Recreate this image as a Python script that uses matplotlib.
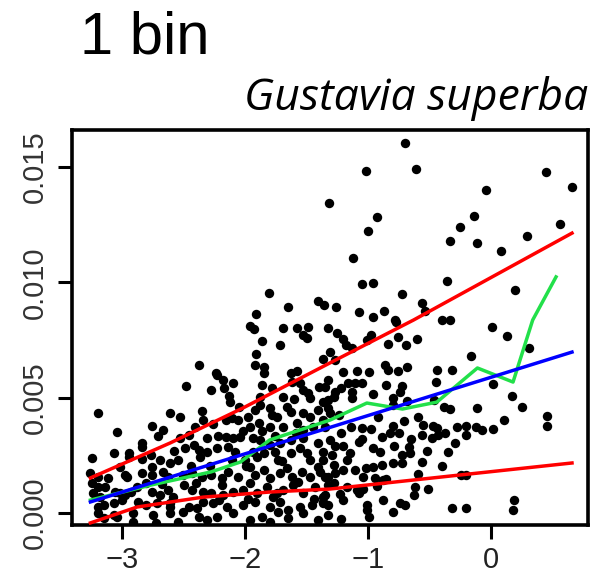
import numpy as np
import matplotlib
matplotlib.use('Agg')
import matplotlib.pyplot as plt

# ----- точки вибірки (x - логарифм розміру, y - приріст, одиниці 1e-3)
pts = [
    (-1.32, 13.44), (-1.81, 9.54), (-1.65, 8.93), (-1.41, 9.19), (-1.36, 9.02),
    (-1.91, 8.63), (-1.96, 8.11), (-1.69, 8.02), (-1.58, 8.02), (-1.49, 8.07),
    (-1.33, 8.02),
    (-0.70, 16.05), (-1.02, 14.83), (-0.61, 14.92), (-0.93, 12.84), (-1.00, 12.23),
    (0.45, 14.79), (0.66, 14.14), (-0.04, 14.01), (-0.14, 12.88), (-0.25, 12.40),
    (0.56, 12.53), (-0.33, 11.80), (-0.11, 11.71), (0.29, 12.01), (0.08, 11.36),
    (-1.12, 11.06), (-1.05, 9.93), (-0.96, 9.98), (-0.36, 10.06), (-0.72, 9.50),
    (0.20, 9.67), (-1.26, 8.93), (-1.07, 8.72), (-0.96, 8.50), (-0.87, 8.76),
    (-0.56, 9.11), (-0.54, 8.76), (-0.77, 8.28), (-0.40, 8.37), (-0.33, 8.37),
    (0.01, 8.07), (0.46, 4.21),
    (-1.25, 7.81), (-1.20, 7.55), (-1.18, 7.29), (-1.13, 7.16), (-1.31, 6.98),
    (-1.27, 6.64), (-1.37, 6.68), (-0.98, 7.72), (-1.01, 7.50), (-0.84, 7.33),
    (-0.76, 7.63), (-0.69, 7.29), (-0.60, 7.55), (-0.78, 8.37), (0.13, 7.68),
    (-0.16, 6.81), (0.31, 7.16), (-0.86, 6.42), (-0.84, 6.20), (-0.68, 6.33),
    (-0.76, 6.16), (-0.99, 6.12), (-1.09, 6.16), (-1.20, 6.12), (-1.33, 5.77),
    (-1.35, 5.46), (-1.22, 5.42), (-1.16, 5.64), (-1.11, 5.64), (-1.05, 5.64),
    (-1.13, 5.25), (-1.13, 4.99), (-1.27, 5.25), (-1.28, 5.03), (-1.33, 4.90),
    (-0.96, 5.16), (-0.85, 5.55), (-0.72, 5.51), (-0.74, 5.25), (-0.80, 4.99),
    (-0.80, 4.68), (-0.68, 4.86), (-0.44, 6.20), (-0.32, 6.20), (-0.45, 5.68),
    (0.02, 5.59), (-0.46, 4.90), (-0.38, 4.60), (-0.33, 4.51), (-0.11, 4.55),
    (0.17, 5.07), (0.25, 4.60), (0.11, 4.03), (0.46, 3.77), (-0.92, 4.16),
    (-1.31, 4.34), (-1.24, 4.25), (-1.35, 3.73), (-1.14, 3.73), (-1.05, 3.69),
    (-0.98, 3.64), (-0.89, 3.30), (-0.82, 3.47), (-0.75, 3.47), (-0.80, 3.77),
    (-0.71, 3.99), (-0.59, 4.16), (-0.55, 3.82), (-0.56, 3.38), (-0.47, 3.77),
    (-0.44, 3.69), (-0.48, 3.25), (-0.43, 3.38), (-0.37, 3.47), (-0.28, 3.73),
    (-0.20, 3.77), (-0.20, 3.38), (-0.12, 3.73), (-0.07, 3.60), (0.02, 3.64),
    (-0.29, 3.04), (-0.35, 2.65), (-1.05, 3.21), (-1.07, 3.08), (-1.27, 2.91),
    (-1.20, 2.91), (-0.96, 2.82), (-0.90, 2.65), (-0.79, 2.91), (-0.67, 2.86),
    (-0.72, 2.52), (-0.66, 2.60), (-0.52, 2.69), (-1.37, 2.30), (-1.29, 2.52),
    (-1.28, 2.08), (-1.17, 2.30), (-1.11, 1.86), (-1.02, 1.95), (-0.96, 2.00),
    (-0.89, 2.08), (-0.80, 2.17), (-0.72, 2.17), (-0.56, 2.21), (-0.59, 1.69),
    (-1.39, 1.78), (-1.35, 1.56), (-1.27, 1.73), (-1.20, 1.86), (-1.04, 1.56),
    (-0.94, 1.52), (-0.88, 1.43), (-0.85, 1.47), (-1.28, 1.30), (-1.33, 1.21),
    (-1.17, 1.13), (-1.09, 1.00), (-1.04, 1.04), (-1.07, 0.87), (-0.62, 1.13),
    (-0.63, 0.78), (-0.51, 1.04), (-0.24, 1.65), (-0.20, 1.65), (-1.37, 0.69),
    (-1.23, 0.82), (-1.20, 0.56), (-1.37, 0.43), (-1.33, 0.35), (-1.01, 0.35),
    (-1.01, 0.13), (-0.88, 0.56), (-0.74, 0.43), (-0.70, 0.35), (-0.80, 0.04),
    (-1.22, -0.26), (-0.99, -0.17), (-0.32, 0.22), (-0.20, 0.22), (0.19, 0.56),
    (0.18, 0.13),
    (-1.93, 7.98), (-1.53, 7.72), (-1.50, 7.59), (-1.86, 7.46), (-1.72, 7.29),
    (-1.91, 6.90), (-2.38, 6.42), (-1.92, 6.42), (-1.85, 6.33), (-1.85, 6.07),
    (-2.24, 6.07), (-2.23, 5.99), (-1.63, 6.07), (-1.58, 6.16), (-2.48, 5.51),
    (-2.18, 5.77), (-2.10, 5.64), (-2.17, 5.42), (-2.28, 5.33), (-1.86, 5.55),
    (-1.78, 5.42), (-1.62, 5.68), (-1.55, 5.64), (-1.53, 5.33), (-1.49, 5.20),
    (-1.40, 5.46), (-1.47, 4.99), (-1.37, 4.81), (-2.13, 5.07), (-2.12, 4.81),
    (-1.88, 5.03), (-1.88, 4.68), (-1.80, 4.55), (-1.78, 4.25), (-1.74, 4.16),
    (-1.66, 4.60), (-1.63, 4.38), (-1.53, 4.34), (-1.41, 4.47), (-1.33, 4.55),
    (-1.92, 4.47), (-1.98, 4.16), (-2.35, 4.42), (-2.61, 4.34), (-2.53, 4.16),
    (-2.41, 3.73), (-2.34, 4.03), (-2.26, 3.86), (-2.16, 4.03), (-2.11, 4.12),
    (-2.06, 4.03), (-1.96, 3.73), (-1.89, 3.90), (-1.80, 3.73), (-1.69, 3.73),
    (-1.58, 3.90), (-1.53, 3.60), (-1.45, 3.73), (-1.37, 4.03), (-3.20, 4.34),
    (-3.04, 3.51), (-2.76, 3.77), (-2.71, 3.34), (-2.67, 3.60), (-2.53, 3.25),
    (-2.46, 3.38), (-2.31, 3.25), (-2.22, 3.34), (-2.16, 3.30), (-2.10, 3.25),
    (-2.04, 3.30), (-1.94, 3.25), (-1.88, 3.17), (-1.80, 2.95), (-1.72, 3.04),
    (-1.63, 3.17), (-1.53, 3.25), (-1.41, 3.04), (-1.31, 3.17), (-3.25, 2.39),
    (-3.07, 2.60), (-2.95, 2.43), (-2.84, 2.86), (-2.84, 2.34), (-2.77, 2.52),
    (-2.76, 2.00), (-2.69, 2.30), (-2.61, 2.17), (-2.55, 2.30), (-2.49, 2.82),
    (-2.42, 2.95), (-2.38, 2.73), (-2.37, 2.43), (-2.31, 2.65), (-2.23, 2.82),
    (-2.14, 2.86), (-2.11, 2.30), (-2.08, 2.65), (-2.00, 2.30), (-1.94, 2.65),
    (-1.90, 2.43), (-1.85, 2.60), (-1.76, 2.65), (-1.73, 2.30), (-1.63, 2.60),
    (-1.55, 2.82), (-1.50, 2.60), (-1.47, 2.30), (-1.37, 2.65), (-3.02, 2.00),
    (-2.96, 1.56), (-2.84, 1.73), (-2.76, 1.65), (-2.67, 1.78), (-2.63, 1.56),
    (-2.51, 1.65), (-2.43, 1.73), (-2.35, 1.56), (-2.28, 1.65), (-2.19, 1.52),
    (-2.14, 1.78), (-2.06, 1.56), (-1.96, 2.00), (-1.92, 1.65), (-1.85, 1.86),
    (-1.80, 1.52), (-1.72, 1.73), (-1.66, 1.95), (-1.62, 1.56), (-1.54, 1.78),
    (-1.47, 1.56), (-1.41, 2.00), (-1.33, 1.56), (-3.25, 1.30), (-3.20, 1.13),
    (-3.14, 1.13), (-3.24, 0.87), (-3.02, 0.87), (-2.98, 0.78), (-2.93, 0.91),
    (-2.88, 1.13), (-2.81, 1.30), (-2.76, 0.91), (-2.69, 0.78), (-2.63, 1.00),
    (-2.59, 0.69), (-2.50, 1.21), (-2.43, 1.00), (-2.34, 0.91), (-2.28, 0.87),
    (-2.19, 1.21), (-2.18, 0.78), (-2.10, 0.91), (-2.02, 1.00), (-1.96, 1.30),
    (-1.90, 0.87), (-1.82, 1.13), (-1.77, 0.69), (-1.69, 1.00), (-1.61, 1.21),
    (-1.53, 0.87), (-1.43, 1.13), (-1.35, 0.78), (-3.15, 0.35), (-3.07, 0.43),
    (-3.00, 0.56), (-2.87, 0.48), (-2.81, 0.35), (-2.72, 0.43), (-2.61, 0.26),
    (-2.46, 0.26), (-2.34, 0.48), (-2.26, 0.43), (-2.15, 0.26), (-2.02, 0.35),
    (-1.92, 0.48), (-1.80, 0.26), (-1.72, 0.48), (-1.65, 0.13), (-1.55, 0.26),
    (-1.46, 0.35), (-1.37, 0.48), (-3.20, 0.00), (-3.15, -0.22), (-3.04, -0.17),
    (-2.91, -0.39), (-2.73, -0.43), (-2.61, 0.00), (-2.55, -0.39), (-2.38, -0.17),
    (-2.31, -0.30), (-2.23, -0.17), (-2.10, 0.00), (-1.96, -0.30), (-1.86, -0.17),
    (-1.80, -0.39), (-1.73, 0.04), (-1.65, -0.22), (-1.53, 0.00), (-1.41, -0.30),
    (-1.33, -0.09),
    (-2.84, 3.04), (-2.95, 2.60), (-3.26, 1.73), (-3.20, 1.56), (-3.12, 1.52),
    (-2.98, 1.65), (-3.18, 0.69), (-3.06, 0.91), (-3.20, 0.26), (-3.07, -0.09),
    (-2.91, 0.00), (-2.75, -0.09), (-2.61, 0.43), (-2.51, 0.04), (-2.39, 0.22),
    # густіша середня частина
    (-2.02, 3.55), (-1.99, 2.05), (-1.70, 2.25), (-1.59, 3.45), (-1.47, 4.15),
    (-1.69, 5.05), (-2.05, 4.60), (-2.29, 2.05), (-2.58, 2.70), (-2.68, 1.25),
    (-1.86, 3.55), (-1.76, 3.35), (-1.57, 1.35), (-1.44, 0.60), (-2.21, 0.55),
    (-1.98, 0.60), (-2.40, 1.30), (-1.74, 0.85), (-1.22, 3.45), (-1.15, 2.60),
    (-0.93, 1.15), (-0.65, 3.20), (-0.40, 2.05), (-1.60, 4.95), (-2.44, 2.05),
]
pts = np.array(pts)
x_pts = pts[:, 0]
y_pts = pts[:, 1] * 1e-3

# ----- лінії: верхній та нижній квантилі (червоні), середнє (синя), бінове середнє (зелена)
q_hi_x = [-3.26, -2.61, -2.02, -1.31, -0.63, 0.66]
q_hi_y = [1.52, 3.04, 4.55, 6.51, 8.37, 12.14]
q_lo_x = [-3.26, -2.88, -2.34, -1.80, -1.31, -0.25, 0.66]
q_lo_y = [-0.43, 0.26, 0.69, 0.91, 1.04, 1.65, 2.17]
mean_x = [-3.26, 0.66]
mean_y = [0.48, 6.98]
bin_x = [-3.26, -2.77, -2.28, -2.04, -1.80, -1.31, -1.01, -0.72, -0.44, -0.11, 0.18, 0.34, 0.53]
bin_y = [0.56, 1.21, 1.78, 2.21, 3.17, 4.03, 4.77, 4.51, 4.81, 6.29, 5.68, 8.37, 10.24]

x_ticks = [-3, -2, -1, 0]
y_ticks = [0.000, 0.005, 0.010, 0.015]

plt.rcParams['font.family'] = ['Liberation Sans', 'DejaVu Sans']

fig = plt.figure(figsize=(5.92, 5.78), dpi=100)
ax = fig.add_axes([0.1216, 0.0917, 0.8716, 0.6833])

ax.scatter(x_pts, y_pts, s=46, c='black', linewidths=0, zorder=2)
ax.plot(q_hi_x, np.array(q_hi_y) * 1e-3, color='#ff0000', lw=2.5, zorder=3)
ax.plot(q_lo_x, np.array(q_lo_y) * 1e-3, color='#ff0000', lw=2.5, zorder=3)
ax.plot(bin_x, np.array(bin_y) * 1e-3, color='#22e04a', lw=2.5, zorder=3)
ax.plot(mean_x, np.array(mean_y) * 1e-3, color='#0000ff', lw=2.5, zorder=4)

ax.set_xlim(-3.41, 0.79)
ax.set_ylim(-0.00052, 0.01661)
ax.set_xticks(x_ticks)
ax.set_xticklabels([f'{t:d}'.replace('-', '\u2212') for t in x_ticks])
ax.set_yticks(y_ticks)
ax.set_yticklabels([f'{t:.3f}' for t in y_ticks], rotation=90, va='center')

for s in ax.spines.values():
    s.set_linewidth(2.6)
ax.tick_params(axis='both', length=10, width=2.2, labelsize=21, direction='out', color='black')
ax.tick_params(axis='x', pad=5)
ax.tick_params(axis='y', pad=7)
for lab in ax.get_yticklabels():
    lab.set_color('#333333')
for lab in ax.get_xticklabels():
    lab.set_color('#222222')

fig.text(0.135, 0.908, '1 bin', fontsize=43, ha='left', va='baseline')
fig.text(0.993, 0.810, 'Gustavia superba', fontsize=32, style='italic',
         family=['Open Sans', 'DejaVu Sans'], ha='right', va='baseline')

fig.savefig('out.png', dpi=100)
